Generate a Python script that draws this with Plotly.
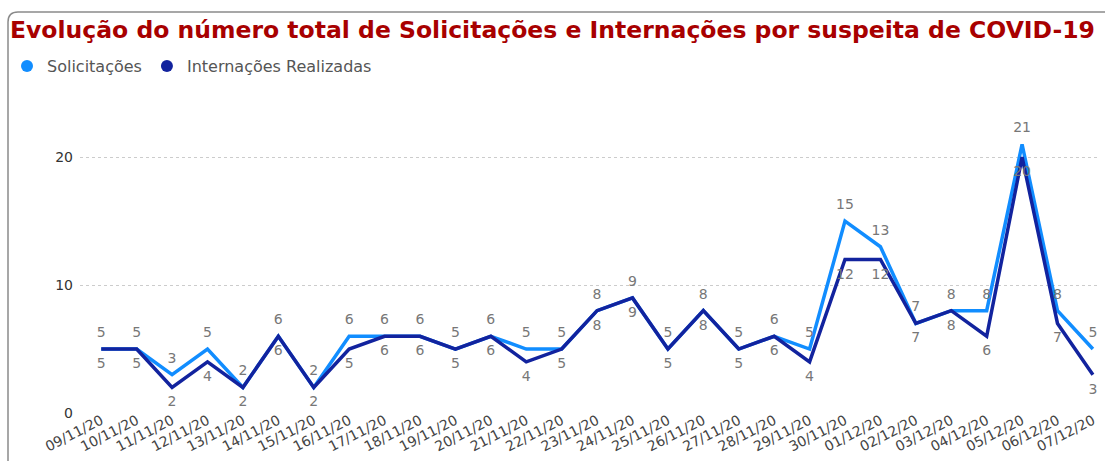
import plotly.graph_objects as go

dates = ["09/11/20","10/11/20","11/11/20","12/11/20","13/11/20","14/11/20","15/11/20",
         "16/11/20","17/11/20","18/11/20","19/11/20","20/11/20","21/11/20","22/11/20",
         "23/11/20","24/11/20","25/11/20","26/11/20","27/11/20","28/11/20","29/11/20",
         "30/11/20","01/12/20","02/12/20","03/12/20","04/12/20","05/12/20","06/12/20","07/12/20"]
solicitacoes = [5,5,3,5,2,6,2,6,6,6,5,6,5,5,8,9,5,8,5,6,5,15,13,7,8,8,21,8,5]
internacoes  = [5,5,2,4,2,6,2,5,6,6,5,6,4,5,8,9,5,8,5,6,4,12,12,7,8,6,20,7,3]
yticks = [0, 10, 20]

LIGHT = "#118DFF"
DARK = "#12239E"
W, H = 1105, 461
ML, MR, MT, MB = 80, 5, 106, 48
pw, ph = W - ML - MR, H - MT - MB
idx = list(range(len(dates)))
FONT = "DejaVu Sans"

fig = go.Figure()
fig.add_trace(go.Scatter(x=idx, y=solicitacoes, mode="lines+markers+text", name="Solicitações",
                         line=dict(color=LIGHT, width=3.5),
                         marker=dict(size=12, color="rgba(0,0,0,0)"),
                         text=[str(v) for v in solicitacoes],
                         textposition="top center", textfont=dict(color="#777777", size=14, family=FONT),
                         showlegend=False, cliponaxis=False))
fig.add_trace(go.Scatter(x=idx, y=internacoes, mode="lines+markers+text", name="Internações Realizadas",
                         line=dict(color=DARK, width=3.5),
                         marker=dict(size=12, color="rgba(0,0,0,0)"),
                         text=[str(v) for v in internacoes],
                         textposition="bottom center", textfont=dict(color="#777777", size=14, family=FONT),
                         showlegend=False, cliponaxis=False))
for nm, c in [("Solicitações", LIGHT), ("Internações Realizadas", DARK)]:
    fig.add_trace(go.Scatter(x=[None], y=[None], mode="markers", name=nm,
                             marker=dict(color=c, size=12), showlegend=True))

def px2x(p):
    return (p - ML) / pw
def py2y(p):
    return (H - MB - p) / ph
x0, y0, r = 8, 12, 10
path = (f"M {px2x(x0)},{py2y(470)} L {px2x(x0)},{py2y(y0 + r)} "
        f"Q {px2x(x0)},{py2y(y0)} {px2x(x0 + r)},{py2y(y0)} L {px2x(1120)},{py2y(y0)}")
fig.add_shape(type="path", path=path, xref="paper", yref="paper",
              line=dict(color="#8a8a8a", width=1.5))

fig.update_layout(
    width=W, height=H,
    margin=dict(l=ML, r=MR, t=MT, b=MB),
    paper_bgcolor="white", plot_bgcolor="white",
    title=dict(text="<b>Evolução do número total de Solicitações e Internações por suspeita de COVID-19</b>",
               x=10 / W, xanchor="left", xref="container", y=1 - 30 / H, yanchor="middle", yref="container",
               pad=dict(l=0, r=0, t=0, b=0),
               font=dict(family=FONT, size=23.5, color="#A80000")),
    legend=dict(orientation="h", x=px2x(7), xanchor="left", y=py2y(66), yanchor="middle",
                font=dict(family=FONT, size=16, color="#555555"),
                itemwidth=30, tracegroupgap=0, bgcolor="rgba(0,0,0,0)"),
    xaxis=dict(range=[-0.6, 28.2], tickmode="array", tickvals=idx, ticktext=dates, tickangle=-27,
               showgrid=False, zeroline=False, showline=False, ticklabelstandoff=-4,
               tickfont=dict(family=FONT, size=14, color="#444444")),
    yaxis=dict(range=[0, 24], tickmode="array", tickvals=yticks, showgrid=True, gridcolor="#cccccc",
               griddash="dot", gridwidth=1, zeroline=False, showline=False,
               tickfont=dict(family=FONT, size=14, color="#333333"), ticklabelstandoff=6),
    hovermode=False,
)
fig.write_html("out.html", config={"displayModeBar": False},
               post_script="document.body.style.margin='0';")
